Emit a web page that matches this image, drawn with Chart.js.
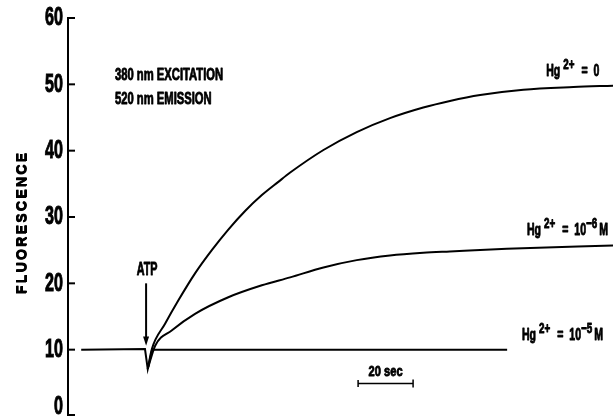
<!DOCTYPE html>
<html>
<head>
<meta charset="utf-8">
<script src="https://cdn.jsdelivr.net/npm/chart.js@4.4.1/dist/chart.umd.min.js"></script>
<style>
  html, body { margin: 0; padding: 0; background: #fff; }
  #wrap { width: 613px; height: 416px; }
</style>
</head>
<body>
<div id="wrap"><canvas id="c" width="613" height="416"></canvas></div>
<script>
// ---- data (time in seconds after ATP addition, fluorescence in arbitrary units) ----
const timeLow   = [-23.6, -0.4, 0.6, 2.2, 40, 80, 131.3];
const fluorLow  = [10, 10.1, 7.1, 10, 10, 10, 10];

const timeMid   = [0.6, 3.3, 9.3, 17.8, 29.9, 42.1, 52.4, 64.5, 76.6, 88.7, 100.8, 110.5, 131.2, 169.8];
const fluorMid  = [7.1, 10.6, 12.9, 15.4, 17.9, 19.7, 20.9, 22.4, 23.5, 24.2, 24.6, 24.8, 25.2, 25.7];

const timeZero  = [0.6, 2.1, 6.9, 11.7, 17.8, 23.9, 29.9, 36.0, 42.1, 48.1, 52.4, 64.5, 76.6, 88.7, 100.8, 110.5, 121.5, 137.2, 155.4, 169.8];
const fluorZero = [7.1, 10.1, 13.9, 17.4, 21.5, 25.0, 28.1, 30.9, 33.3, 35.3, 36.7, 40.1, 42.8, 44.9, 46.5, 47.5, 48.4, 49.2, 49.6, 49.8];

const yTicks = [0, 10, 20, 30, 40, 50, 60];
const yTitle = 'FLUORESCENCE';
const seriesLabels = ['Hg2+ = 10-5 M', 'Hg2+ = 10-6 M', 'Hg2+ = 0'];

function pts(xs, ys) { return xs.map((x, i) => ({ x: x, y: ys[i] })); }

const FAM = '"Liberation Sans", Arial, sans-serif';

// draw horizontally condensed bold text; returns advance width
function ctext(ctx, text, x, y, size, sx, align) {
  ctx.save();
  ctx.font = 'bold ' + size + 'px ' + FAM;
  ctx.textBaseline = 'middle';
  ctx.textAlign = align || 'left';
  ctx.translate(x, y);
  ctx.scale(sx, 1);
  ctx.lineWidth = 0.9;
  ctx.lineJoin = 'round';
  ctx.fillText(text, 0, 0);
  ctx.strokeText(text, 0, 0);
  const w = ctx.measureText(text).width * sx;
  ctx.restore();
  return w;
}

function drawHgLabel(ctx, x, y, tail, supTail, end) {
  const S = 17, SS = 14, SX = 0.62, SSX = 0.7;
  x += ctext(ctx, 'Hg', x, y, S, SX) + 3;
  x += ctext(ctx, '2+', x, y - 6, SS, SSX) + 7;
  x += ctext(ctx, '=', x, y, S, SX) + 6;
  x += ctext(ctx, tail, x, y, S, SX);
  if (supTail) {
    x += ctext(ctx, supTail, x, y - 6, SS, SSX) + 2;
    ctext(ctx, end, x, y, S, SX);
  }
}

const annotations = {
  id: 'annotations',
  afterDraw(chart) {
    const ctx = chart.ctx;
    const xs = chart.scales.x, ys = chart.scales.y;
    const X = v => xs.getPixelForValue(v), Y = v => ys.getPixelForValue(v);
    ctx.save();
    ctx.fillStyle = '#000';
    ctx.strokeStyle = '#000';

    // inward ticks on y axis
    ctx.lineWidth = 2;
    const left = chart.chartArea.left;
    yTicks.forEach(v => {
      const y = Math.min(Y(v), chart.chartArea.bottom - 1);
      ctx.beginPath();
      ctx.moveTo(left - 1, y);
      ctx.lineTo(left + 7, y);
      ctx.stroke();
    });

    // instrument settings
    ctext(ctx, '380 nm EXCITATION', X(-11.3), Y(51.3), 17, 0.66);
    ctext(ctx, '520 nm EMISSION', X(-11.3), Y(47.7), 17, 0.66);

    // ATP label and arrow
    ctext(ctx, 'ATP', X(0) + 1, Y(22.0), 18, 0.6, 'center');
    ctx.lineWidth = 2;
    ctx.beginPath();
    ctx.moveTo(X(0), Y(20.0));
    ctx.lineTo(X(0), Y(11.6));
    ctx.stroke();
    ctx.beginPath();
    ctx.moveTo(X(0) - 3, Y(12.0));
    ctx.lineTo(X(0) + 3, Y(12.0));
    ctx.lineTo(X(0), Y(10.6));
    ctx.closePath();
    ctx.fill();

    // series labels
    drawHgLabel(ctx, X(145.5), Y(52.0), '0');
    drawHgLabel(ctx, X(138.5), Y(28.0), '10', '\u22126', 'M');
    drawHgLabel(ctx, X(136.7), Y(12.2), '10', '\u22125', 'M');

    // 20 sec scale bar
    ctx.lineWidth = 1.5;
    const yb = Y(4.9);
    ctx.beginPath();
    ctx.moveTo(X(77.1), yb); ctx.lineTo(X(97.1), yb);
    ctx.moveTo(X(77.1), yb - 3.5); ctx.lineTo(X(77.1), yb + 3.5);
    ctx.moveTo(X(97.1), yb - 4); ctx.lineTo(X(97.1), yb + 4);
    ctx.stroke();
    ctext(ctx, '20 sec', X(87.1), Y(6.6), 15, 0.74, 'center');
    ctx.restore();
  }
};

const lineStyle = { borderColor: '#000', borderWidth: 2, pointRadius: 0, fill: false, tension: 0.4, cubicInterpolationMode: 'monotone' };

function wrapYScale(scale) {
  scale.paddingTop = 0;
  scale.paddingBottom = 0;
  if (scale._wrapped) return;
  scale._wrapped = true;
  const origItems = scale.getLabelItems;
  scale.getLabelItems = function (area) {
    const items = origItems.call(this, area);
    items.forEach(it => {
      const t = it.options.translation;
      if (t[1] > this.bottom - 9) t[1] = this.bottom - 9;
    });
    return items;
  };
  const origLabels = scale.drawLabels;
  scale.drawLabels = function (area) {
    const ctx = this.ctx;
    const pivot = this.right - this.options.ticks.padding;
    ctx.save();
    ctx.translate(pivot, 0);
    ctx.scale(0.62, 1);
    ctx.translate(-pivot, 0);
    origLabels.call(this, area);
    ctx.restore();
  };
  const origTitle = scale.drawTitle;
  scale.drawTitle = function () {
    const ctx = this.ctx;
    [[0, 5], [0.7, 5], [0, 5.7]].forEach(o => {
      ctx.save();
      try { ctx.letterSpacing = '2.3px'; } catch (e) {}
      ctx.translate(o[0], o[1]);
      origTitle.call(this);
      ctx.restore();
    });
  };
}

new Chart(document.getElementById('c'), {
  type: 'line',
  data: {
    datasets: [
      Object.assign({ label: seriesLabels[0], data: pts(timeLow, fluorLow) }, lineStyle, { tension: 0, cubicInterpolationMode: 'default' }),
      Object.assign({ label: seriesLabels[1], data: pts(timeMid, fluorMid) }, lineStyle),
      Object.assign({ label: seriesLabels[2], data: pts(timeZero, fluorZero) }, lineStyle)
    ]
  },
  options: {
    responsive: false,
    devicePixelRatio: 1,
    animation: false,
    layout: { autoPadding: false, padding: { top: 18, right: 0, bottom: 0, left: 0 } },
    plugins: { legend: { display: false }, tooltip: { enabled: false }, title: { display: false } },
    scales: {
      x: {
        type: 'linear', display: false, min: -28.4, max: 169.8,
        afterFit(scale) { scale.height = 0; scale.paddingLeft = 0; scale.paddingRight = 0; }
      },
      y: {
        min: 0, max: 60,
        afterFit(scale) { scale.width = 68; wrapYScale(scale); },
        afterBuildTicks(scale) { scale.ticks = yTicks.map(v => ({ value: v })); },
        border: { display: true, color: '#000', width: 2 },
        grid: { display: false, drawTicks: false },
        ticks: {
          color: '#000', padding: 5,
          textStrokeColor: '#000', textStrokeWidth: 1,
          font: { family: FAM, weight: 'bold', size: 26 }
        },
        title: {
          display: true, text: yTitle, color: '#000',
          font: { family: FAM, weight: 'bold', size: 14 },
          padding: { top: 14, bottom: 0 }
        }
      }
    }
  },
  plugins: [annotations]
});
</script>
</body>
</html>
